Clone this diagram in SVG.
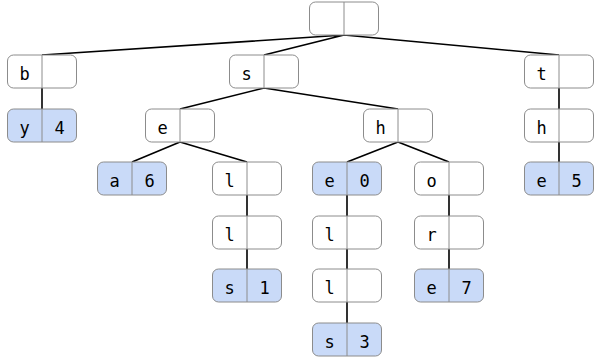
<svg xmlns="http://www.w3.org/2000/svg" width="597" height="360" viewBox="0 0 597 360">
<style>
.box{fill:#ffffff;stroke:#8c8c8c;stroke-width:1}
.leaf{fill:#c9daf8;stroke:#8c8c8c;stroke-width:1}
.div{stroke:#8c8c8c;stroke-width:1}
.t{font-family:"DejaVu Sans Mono",monospace;font-size:17px;fill:#000;text-anchor:middle}
.e{stroke:#000;stroke-width:1.6;fill:none}
</style>
<rect width="597" height="360" fill="#fff"/>
<g id="connectors">
<path class="e" d="M344,35 L42,55 M344,35 L264,55 M344,35 L559,55"/>
<path class="e" d="M42,88 L42,109"/>
<path class="e" d="M264,88 L180,109 M264,88 L398,109"/>
<path class="e" d="M559,88 L559,109 M559,142 L559,162"/>
<path class="e" d="M180,142 L132,162 M180,142 L247,162"/>
<path class="e" d="M398,142 L347,162 M398,142 L449,162"/>
<path class="e" d="M247,195 L247,216 M247,249 L247,269"/>
<path class="e" d="M347,195 L347,216 M347,249 L347,269 M347,302 L347,323"/>
<path class="e" d="M449,195 L449,216 M449,249 L449,269"/>
</g>
<g id="root"><rect class="box" x="309.5" y="2" width="69" height="33" rx="6"/><line class="div" x1="344" y1="2" x2="344" y2="35"/></g>
<g id="b"><rect class="box" x="7.5" y="55" width="69" height="33" rx="6"/><line class="div" x1="42" y1="55" x2="42" y2="88"/><text class="t" x="24.5" y="79.5">b</text></g>
<g id="y4"><rect class="leaf" x="7.5" y="109" width="69" height="33" rx="6"/><line class="div" x1="42" y1="109" x2="42" y2="142"/><text class="t" x="24.5" y="133.5">y</text><text class="t" x="59.5" y="133.5">4</text></g>
<g id="s"><rect class="box" x="229.5" y="55" width="69" height="33" rx="6"/><line class="div" x1="264" y1="55" x2="264" y2="88"/><text class="t" x="246.5" y="79.5">s</text></g>
<g id="t"><rect class="box" x="524.5" y="55" width="69" height="33" rx="6"/><line class="div" x1="559" y1="55" x2="559" y2="88"/><text class="t" x="541.5" y="79.5">t</text></g>
<g id="th"><rect class="box" x="524.5" y="109" width="69" height="33" rx="6"/><line class="div" x1="559" y1="109" x2="559" y2="142"/><text class="t" x="541.5" y="133.5">h</text></g>
<g id="the5"><rect class="leaf" x="524.5" y="162" width="69" height="33" rx="6"/><line class="div" x1="559" y1="162" x2="559" y2="195"/><text class="t" x="541.5" y="186.5">e</text><text class="t" x="576.5" y="186.5">5</text></g>
<g id="se"><rect class="box" x="145.5" y="109" width="69" height="33" rx="6"/><line class="div" x1="180" y1="109" x2="180" y2="142"/><text class="t" x="162.5" y="133.5">e</text></g>
<g id="sh"><rect class="box" x="363.5" y="109" width="69" height="33" rx="6"/><line class="div" x1="398" y1="109" x2="398" y2="142"/><text class="t" x="380.5" y="133.5">h</text></g>
<g id="sea6"><rect class="leaf" x="97.5" y="162" width="69" height="33" rx="6"/><line class="div" x1="132" y1="162" x2="132" y2="195"/><text class="t" x="114.5" y="186.5">a</text><text class="t" x="149.5" y="186.5">6</text></g>
<g id="sel"><rect class="box" x="212.5" y="162" width="69" height="33" rx="6"/><line class="div" x1="247" y1="162" x2="247" y2="195"/><text class="t" x="229.5" y="186.5">l</text></g>
<g id="sell"><rect class="box" x="212.5" y="216" width="69" height="33" rx="6"/><line class="div" x1="247" y1="216" x2="247" y2="249"/><text class="t" x="229.5" y="240.5">l</text></g>
<g id="sells1"><rect class="leaf" x="212.5" y="269" width="69" height="33" rx="6"/><line class="div" x1="247" y1="269" x2="247" y2="302"/><text class="t" x="229.5" y="293.5">s</text><text class="t" x="264.5" y="293.5">1</text></g>
<g id="she0"><rect class="leaf" x="312.5" y="162" width="69" height="33" rx="6"/><line class="div" x1="347" y1="162" x2="347" y2="195"/><text class="t" x="329.5" y="186.5">e</text><text class="t" x="364.5" y="186.5">0</text></g>
<g id="shel"><rect class="box" x="312.5" y="216" width="69" height="33" rx="6"/><line class="div" x1="347" y1="216" x2="347" y2="249"/><text class="t" x="329.5" y="240.5">l</text></g>
<g id="shell"><rect class="box" x="312.5" y="269" width="69" height="33" rx="6"/><line class="div" x1="347" y1="269" x2="347" y2="302"/><text class="t" x="329.5" y="293.5">l</text></g>
<g id="shells3"><rect class="leaf" x="312.5" y="323" width="69" height="33" rx="6"/><line class="div" x1="347" y1="323" x2="347" y2="356"/><text class="t" x="329.5" y="347.5">s</text><text class="t" x="364.5" y="347.5">3</text></g>
<g id="sho"><rect class="box" x="414.5" y="162" width="69" height="33" rx="6"/><line class="div" x1="449" y1="162" x2="449" y2="195"/><text class="t" x="431.5" y="186.5">o</text></g>
<g id="shor"><rect class="box" x="414.5" y="216" width="69" height="33" rx="6"/><line class="div" x1="449" y1="216" x2="449" y2="249"/><text class="t" x="431.5" y="240.5">r</text></g>
<g id="shore7"><rect class="leaf" x="414.5" y="269" width="69" height="33" rx="6"/><line class="div" x1="449" y1="269" x2="449" y2="302"/><text class="t" x="431.5" y="293.5">e</text><text class="t" x="466.5" y="293.5">7</text></g>
</svg>
